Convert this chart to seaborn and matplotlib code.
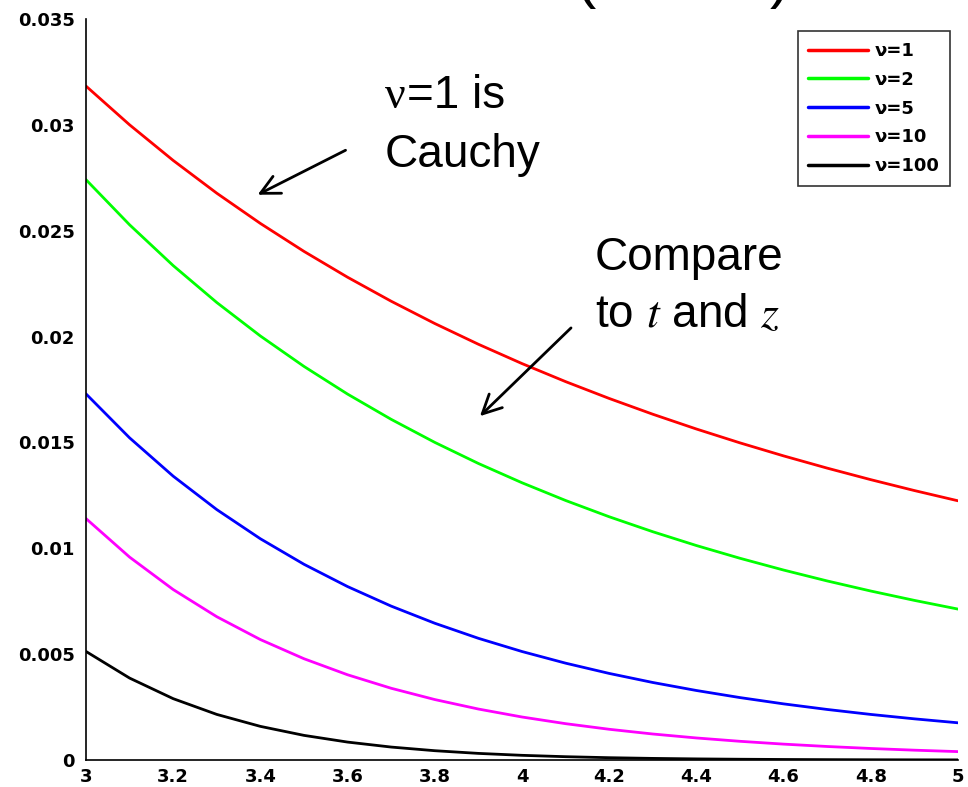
import matplotlib
matplotlib.use("Agg")
import matplotlib.pyplot as plt
import seaborn as sns
import pandas as pd

x_vals = [3.0, 3.1, 3.2, 3.3, 3.4, 3.5, 3.6, 3.7, 3.8, 3.9, 4.0,
          4.1, 4.2, 4.3, 4.4, 4.5, 4.6, 4.7, 4.8, 4.9, 5.0]
nu1 = [0.031831, 0.030001, 0.028319, 0.026771, 0.025343, 0.024023, 0.022802,
       0.021669, 0.020616, 0.019637, 0.018724, 0.017872, 0.017077, 0.016332,
       0.015634, 0.014979, 0.014364, 0.013786, 0.013241, 0.012727, 0.012243]
nu2 = [0.027410, 0.025279, 0.023352, 0.021608, 0.020027, 0.018590, 0.017282,
       0.016090, 0.015002, 0.014006, 0.013095, 0.012258, 0.011489, 0.010782,
       0.010130, 0.009528, 0.008972, 0.008457, 0.007981, 0.007539, 0.007128]
nu5 = [0.017293, 0.015216, 0.013406, 0.011827, 0.010449, 0.009244, 0.008191,
       0.007268, 0.006459, 0.005748, 0.005124, 0.004574, 0.004089, 0.003661,
       0.003283, 0.002948, 0.002651, 0.002387, 0.002152, 0.001944, 0.001757]
nu10 = [0.011403, 0.009583, 0.008051, 0.006767, 0.005688, 0.004783, 0.004025,
        0.003388, 0.002855, 0.002407, 0.002031, 0.001716, 0.001451, 0.001228,
        0.001041, 0.000883, 0.000750, 0.000638, 0.000544, 0.000464, 0.000396]
nu100 = [0.005127, 0.003869, 0.002897, 0.002153, 0.001588, 0.001163, 0.000846,
         0.000611, 0.000439, 0.000312, 0.000221, 0.000156, 0.000109, 0.0000756,
         0.0000522, 0.0000359, 0.0000246, 0.0000167, 0.0000113, 0.0000076, 0.0000051]
series_labels = ["ν=1", "ν=2", "ν=5", "ν=10", "ν=100"]
series_colors = ["#ff0000", "#00ff00", "#0000ff", "#ff00ff", "#000000"]
x_ticks = [3, 3.2, 3.4, 3.6, 3.8, 4, 4.2, 4.4, 4.6, 4.8, 5]
x_tick_labels = ["3", "3.2", "3.4", "3.6", "3.8", "4", "4.2", "4.4", "4.6", "4.8", "5"]
y_ticks = [0, 0.005, 0.01, 0.015, 0.02, 0.025, 0.03, 0.035]
y_tick_labels = ["0", "0.005", "0.01", "0.015", "0.02", "0.025", "0.03", "0.035"]

sns.set_style("white")
plt.rcParams["font.family"] = ["Liberation Sans", "DejaVu Sans"]
plt.rcParams["mathtext.fontset"] = "stix"
plt.rcParams["text.color"] = "black"
plt.rcParams["xtick.color"] = "black"
plt.rcParams["ytick.color"] = "black"

frames = []
for lab, ys in zip(series_labels, [nu1, nu2, nu5, nu10, nu100]):
    frames.append(pd.DataFrame({"x": x_vals, "y": ys, "nu": lab}))
df = pd.concat(frames, ignore_index=True)

fig = plt.figure(figsize=(9.68, 7.87), dpi=100)
ax = fig.add_axes([86 / 968, 1 - 760 / 787, (958 - 86) / 968, (760 - 19) / 787])

sns.lineplot(data=df, x="x", y="y", hue="nu", hue_order=series_labels,
             palette=series_colors, linewidth=2.0, ax=ax, legend=False)

tick_font = {"family": "DejaVu Sans", "weight": "bold", "size": 13}
ax.set_xlim(3, 5)
ax.set_ylim(0, 0.035)
ax.set_xticks(x_ticks)
ax.set_xticklabels(x_tick_labels, fontdict=tick_font)
ax.set_yticks(y_ticks)
ax.set_yticklabels(y_tick_labels, fontdict=tick_font)
ax.set_xlabel("")
ax.set_ylabel("")
ax.tick_params(direction="in", length=5, width=1, colors="black", pad=8)
ax.tick_params(axis="x", pad=6)
for s in ["top", "right"]:
    ax.spines[s].set_visible(False)
for s in ["left", "bottom"]:
    ax.spines[s].set_color("black")
    ax.spines[s].set_linewidth(1.2)

leg = ax.legend(ax.lines[:5], series_labels, loc="upper right",
                bbox_to_anchor=((950 - 86) / 872, (760 - 31) / 741),
                frameon=True, fancybox=False, edgecolor="black",
                prop={"family": "DejaVu Sans", "weight": "bold", "size": 13},
                handlelength=3.3, labelspacing=0.6, borderpad=0.6,
                handletextpad=0.35, borderaxespad=0)
leg.get_frame().set_linewidth(1.2)
for ln in leg.get_lines():
    ln.set_linewidth(2.5)

# annotations
ax.text(3.686, 0.0308, "ν", family=["Liberation Serif", "DejaVu Serif"],
        fontsize=33, ha="left", va="baseline")
ax.text(3.7365, 0.0308, "=1 is", fontsize=33, ha="left", va="baseline")
ax.text(3.686, 0.02801, "Cauchy", fontsize=33, ha="left", va="baseline")
ax.text(4.167, 0.02314, "Compare", fontsize=33, ha="left", va="baseline")
ax.text(4.167, 0.02045, r"to $t$ and $z$", fontsize=33, ha="left", va="baseline")
ax.annotate("", xy=(3.388, 0.02664), xytext=(3.601, 0.02886),
            arrowprops=dict(arrowstyle="->", color="black", lw=2,
                            mutation_scale=34))
ax.annotate("", xy=(3.899, 0.01615), xytext=(4.117, 0.0205),
            arrowprops=dict(arrowstyle="->", color="black", lw=2,
                            mutation_scale=34))

# clipped title parentheses at the very top
fig.text(575 / 968, 1.0 + 4 / 787, "(", fontsize=44, ha="left", va="baseline")
fig.text(770 / 968, 1.0 + 4 / 787, ")", fontsize=44, ha="left", va="baseline")

fig.savefig("out.png", dpi=100)
